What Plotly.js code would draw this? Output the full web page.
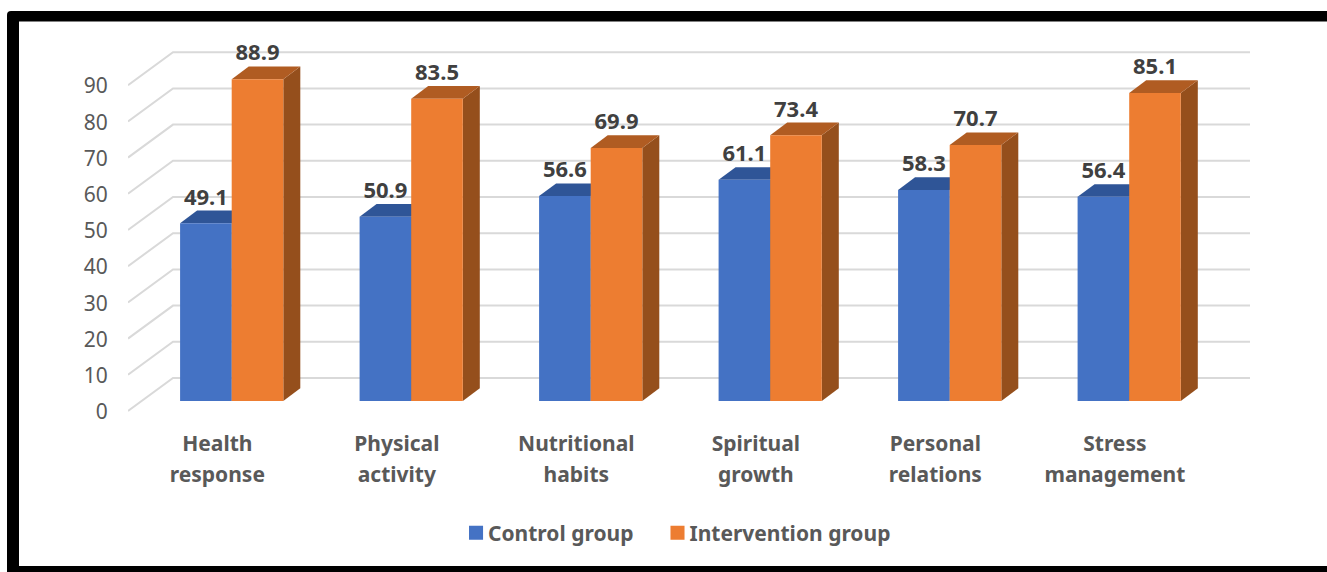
<!DOCTYPE html>
<html>
<head>
<meta charset="utf-8">
<script src="https://cdn.plot.ly/plotly-3.0.1.min.js"></script>
<style>html,body{margin:0;padding:0;background:#fff;overflow:hidden}</style>
</head>
<body>
<div id="chart" style="width:1327px;height:572px"></div>
<script>
const categories = ["Health response", "Physical activity", "Nutritional habits", "Spiritual growth", "Personal relations", "Stress management"];
const controlGroup = [49.1, 50.9, 56.6, 61.1, 58.3, 56.4];
const interventionGroup = [88.9, 83.5, 69.9, 73.4, 70.7, 85.1];
const yTicks = [0, 10, 20, 30, 40, 50, 60, 70, 80, 90];

const W = 1327, H = 572;
const M = {l: 128, r: 77, t: 40, b: 160};
const xRange = [-0.5777, 5.673], yRange = [-3.039, 99.724];
const barW = 0.2875;               // width of one bar, x units
const depthX = 0.0947, depthY = 3.5;   // 3-D bar depth
const wallX = 0.2507, wallY = 9.116;   // floor depth
const frontY = -2.762;             // front edge of the floor relative to the bars
const frontX = -0.08;              // front-plane centre of a category relative to its bars
const idx = categories.map((_, i) => i);

const px = (x) => (x - M.l) / (W - M.l - M.r);
const py = (y) => (H - M.b - y) / (H - M.t - M.b);

function face(points, color) {
  return {type: 'path', xref: 'x', yref: 'y', layer: 'below', line: {width: 0}, fillcolor: color,
    path: 'M' + points.map(p => p[0] + ',' + p[1]).join(' L') + ' Z'};
}
const shapes = [];
// picture frame
shapes.push({type: 'path', xref: 'paper', yref: 'paper', layer: 'below', line: {width: 0}, fillcolor: '#000',
  path: `M${px(7)},${py(H + 2)} L${px(7)},${py(15)} Q${px(7)},${py(11)} ${px(11)},${py(11)} L${px(W + 2)},${py(11)} L${px(W + 2)},${py(H + 2)} Z`});
shapes.push({type: 'rect', xref: 'paper', yref: 'paper', layer: 'below', line: {width: 0}, fillcolor: '#fff',
  x0: px(19), x1: px(W + 2), y0: py(566), y1: py(21.5)});
// floor and back-wall gridlines
yTicks.forEach(t => {
  const y0 = t + frontY, y1 = y0 + wallY;
  shapes.push({type: 'path', xref: 'x', yref: 'y', layer: 'below', line: {color: '#d9d9d9', width: 2},
    path: `M${xRange[0]},${y0} L${xRange[0] + wallX},${y1} L${xRange[1]},${y1}`});
});
// depth faces of the bars
function addFaces(values, shift, topColor, sideColor) {
  values.forEach((v, i) => {
    const x0 = i + shift, x1 = x0 + barW;
    shapes.push(face([[x1, 0], [x1 + depthX, depthY], [x1 + depthX, v + depthY], [x1, v]], sideColor));
    shapes.push(face([[x0, v], [x0 + depthX, v + depthY], [x1 + depthX, v + depthY], [x1, v]], topColor));
  });
}
addFaces(controlGroup, -barW, '#2f5597', '#264478');
addFaces(interventionGroup, 0, '#b05c22', '#954f1c');

const labelFont = {family: '"Noto Sans", sans-serif', size: 22, color: '#404040', weight: 700};
const data = [
  {type: 'bar', name: 'Control group', x: idx, y: controlGroup, marker: {color: '#4472c4'}, hoverinfo: 'skip'},
  {type: 'bar', name: 'Intervention group', x: idx, y: interventionGroup, marker: {color: '#ed7d31'}, hoverinfo: 'skip'},
  {type: 'scatter', mode: 'text', showlegend: false, hoverinfo: 'skip', cliponaxis: false,
    x: idx.map(i => i - barW / 2), y: controlGroup.map(v => v + 6.7),
    text: controlGroup.map(v => v.toFixed(1)), textposition: 'middle center', textfont: labelFont},
  {type: 'scatter', mode: 'text', showlegend: false, hoverinfo: 'skip', cliponaxis: false,
    x: idx.map(i => i + barW / 2), y: interventionGroup.map(v => v + 6.7),
    text: interventionGroup.map(v => v.toFixed(1)), textposition: 'middle center', textfont: labelFont}
];

const catSpan = (s) => `<span style="font-size:21px">${s}</span>`;
const layout = {
  width: W, height: H,
  margin: M,
  paper_bgcolor: '#fff', plot_bgcolor: 'rgba(0,0,0,0)',
  barmode: 'group', bargap: 1 - 2 * barW, bargroupgap: 0,
  showlegend: true,
  legend: {orientation: 'h', x: px(437), xanchor: 'left', y: py(533), yanchor: 'middle',
    itemwidth: 41, bgcolor: 'rgba(0,0,0,0)', traceorder: 'normal',
    font: {family: '"Noto Sans", sans-serif', size: 21, color: '#595959', weight: 700}},
  xaxis: {type: 'linear', range: xRange, showgrid: false, zeroline: false, showline: false,
    tickmode: 'array', tickvals: idx.map(i => i + frontX),
    ticktext: categories.map(c => c.split(' ').map(catSpan).join('<br>')),
    ticks: 'outside', ticklen: 9, tickcolor: 'rgba(0,0,0,0)',
    tickangle: 0,
    tickfont: {family: '"Noto Sans", sans-serif', size: 24, color: '#595959', weight: 700}},
  yaxis: {range: yRange, showgrid: false, zeroline: false, showline: false,
    tickmode: 'array', tickvals: yTicks.map(t => t + frontY - 0.25), ticktext: yTicks.map(String),
    ticks: 'outside', ticklen: 15, tickcolor: 'rgba(0,0,0,0)',
    tickfont: {family: '"Noto Sans", sans-serif', size: 21, color: '#595959'}},
  shapes: shapes
};

Plotly.newPlot('chart', data, layout, {displayModeBar: false, staticPlot: true}).then(gd => {
  // legend swatches sit 6px from their text and measure 14px, as in the reference
  gd.querySelectorAll('.legend .legendpoints').forEach(g => {
    g.setAttribute('transform', 'translate(9.2,0) scale(1.17)');
  });
});
</script>
</body>
</html>
